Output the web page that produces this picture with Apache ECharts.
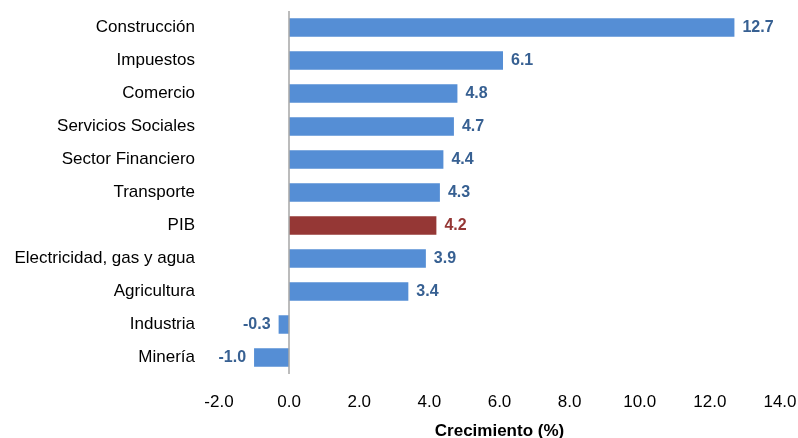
<!DOCTYPE html>
<html>
<head>
<meta charset="utf-8">
<script src="https://cdn.jsdelivr.net/npm/echarts@6/dist/echarts.min.js"></script>
<style>
html,body{margin:0;padding:0;background:#fff;}
#chart{width:798px;height:438px;}
</style>
</head>
<body>
<div id="chart"></div>
<script>
const categories = ["Construcción","Impuestos","Comercio","Servicios Sociales","Sector Financiero","Transporte","PIB","Electricidad, gas y agua","Agricultura","Industria","Minería"];
const values = [12.7, 6.1, 4.8, 4.7, 4.4, 4.3, 4.2, 3.9, 3.4, -0.3, -1.0];
const highlight = "PIB";
const xTicks = {min: -2, max: 14, interval: 2};
const axisTitle = "Crecimiento (%)";

const FONT = "'Liberation Sans Narrow','Arial Narrow','Liberation Sans',Arial,sans-serif";
const BLUE = "#558ED5", BLUE_TXT = "#376092", RED = "#953735";

const chart = echarts.init(document.getElementById('chart'), null, {renderer:'canvas'});
chart.setOption({
  animation:false,
  backgroundColor:'#fff',
  grid:{left:219, right:18, top:11, bottom:64, containLabel:false, outerBoundsMode:'none'},
  xAxis:{
    type:'value', min:xTicks.min, max:xTicks.max, interval:xTicks.interval,
    axisLine:{show:false}, axisTick:{show:false}, splitLine:{show:false},
    axisLabel:{formatter:v=>v.toFixed(1), fontFamily:FONT, fontSize:17, color:'#000', margin:20},
    name:axisTitle, nameLocation:'middle', nameGap:49,
    nameTextStyle:{fontFamily:FONT, fontSize:17, fontWeight:'bold', color:'#000'}
  },
  yAxis:{
    type:'category', data:categories, inverse:true,
    axisLine:{show:false}, axisTick:{show:false},
    axisLabel:{fontFamily:FONT, fontSize:17, color:'#000', margin:24}
  },
  series:[{
    type:'bar', barCategoryGap:'44%',
    data: values.map((v,i)=>({
      value:v,
      itemStyle:{color: categories[i]===highlight ? RED : BLUE},
      label:{show:true, position: v<0 ? 'left':'right', distance:8,
        formatter: p=>p.value.toFixed(1),
        fontFamily:FONT, fontSize:16, fontWeight:'bold',
        color: categories[i]===highlight ? RED : BLUE_TXT}
    })),
    markLine:{silent:true, symbol:'none', label:{show:false},
      lineStyle:{color:'#A6A6A6', width:1.5, type:'solid'},
      data:[{xAxis:0}]}
  }]
});
</script>
</body>
</html>
